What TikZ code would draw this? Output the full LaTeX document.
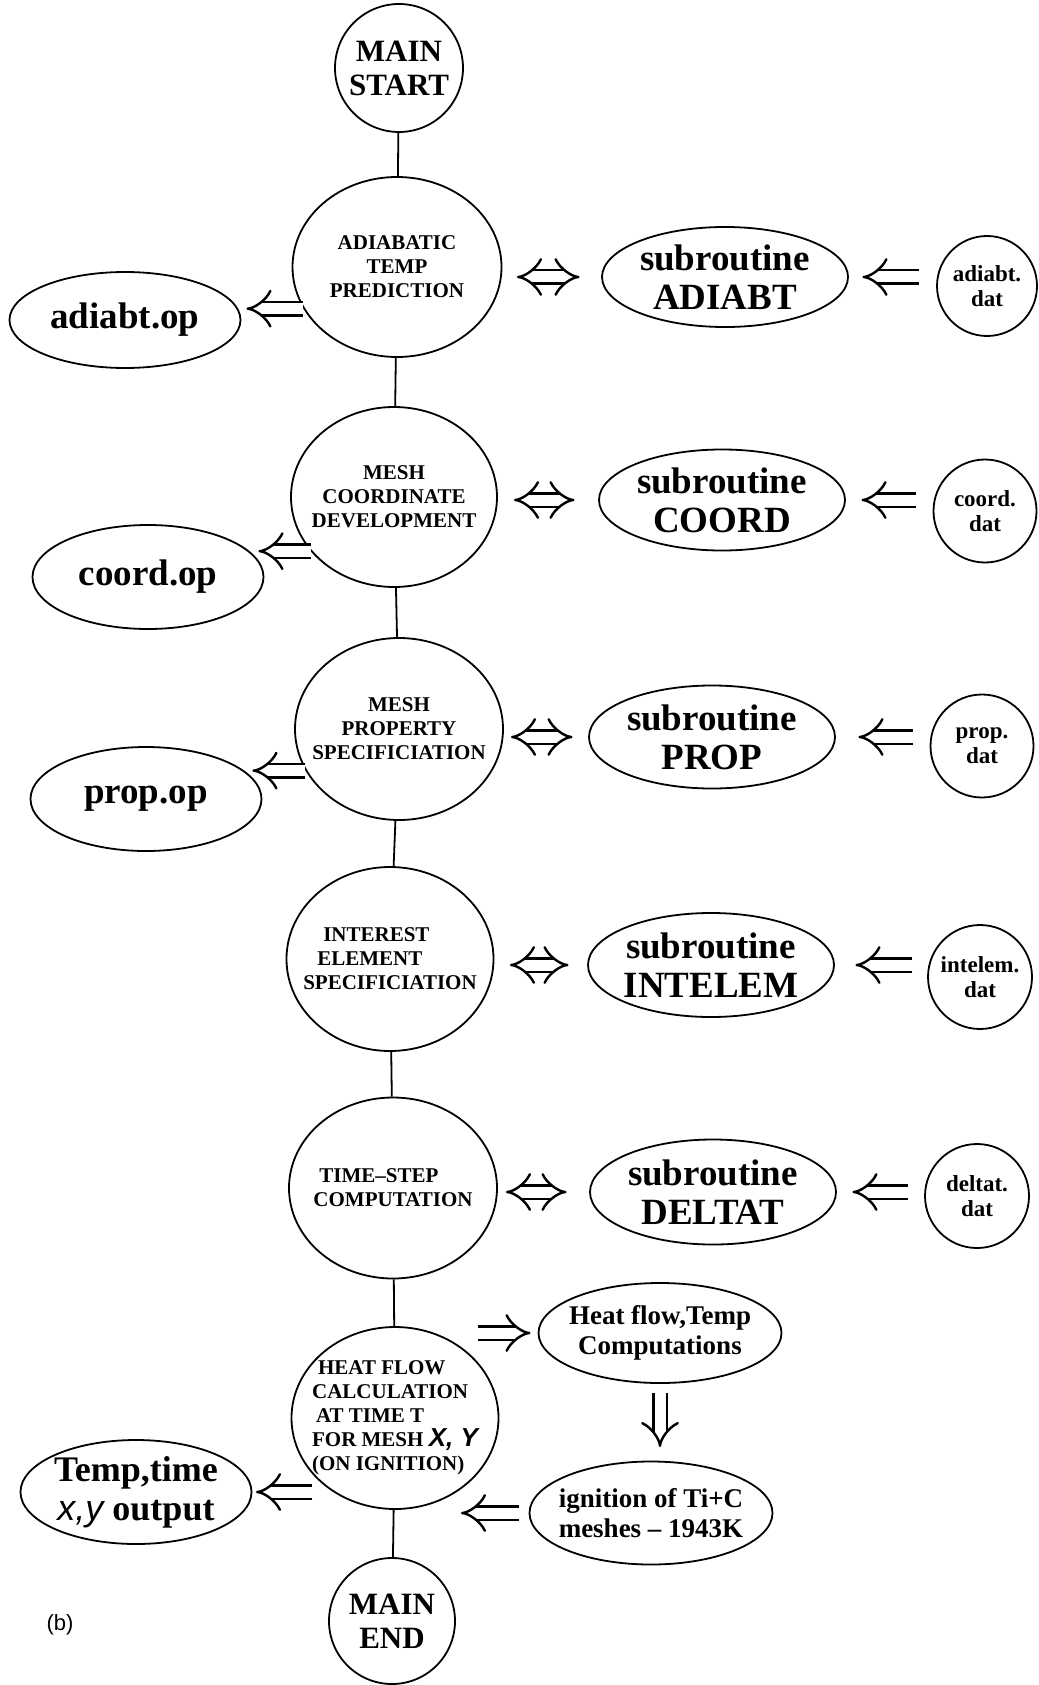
\documentclass[tikz,border=0pt]{standalone}
\usepackage{fontspec}
\setmainfont{Liberation Serif}
\setsansfont{Liberation Sans}
\usetikzlibrary{shapes.geometric,arrows.meta,calc}
\begin{document}
\begin{tikzpicture}[x=1pt,y=-1pt,
  every node/.style={inner sep=0pt, align=center, font=\bfseries},
  el/.style={draw, ellipse, line width=1.8pt, inner sep=-40pt},
  mainel/.style={el, font=\fontsize{21}{24}\selectfont\bfseries},
  subel/.style={el, minimum width=246pt, font=\fontsize{37}{39}\selectfont\bfseries},
  opel/.style={el, minimum width=231pt, font=\fontsize{37}{40}\selectfont\bfseries},
  datel/.style={el, font=\fontsize{23}{25}\selectfont\bfseries},
  compel/.style={el, font=\fontsize{27}{30}\selectfont\bfseries},
  termel/.style={el, font=\fontsize{31}{34}\selectfont\bfseries},
  dbl/.style={double, double distance=11pt, line width=2.4pt, -{Implies}},
  dblboth/.style={double, double distance=11pt, line width=2.4pt, {Implies}-{Implies}},
  link/.style={line width=1.8pt}
]
\useasboundingbox (0,0) rectangle (1038,1685);

% main column
\node[termel, minimum size=128pt] (start) at (399,68) {MAIN\\START};
\node[mainel, minimum width=209pt, minimum height=180pt] (adiab) at (397,267) {ADIABATIC\\TEMP\\PREDICTION};
\node[mainel, minimum width=206pt, minimum height=180pt] (coordm) at (394,497) {MESH\\COORDINATE\\DEVELOPMENT};
\node[mainel, minimum width=208pt, minimum height=182pt] (propm) at (399,729) {MESH\\PROPERTY\\SPECIFICIATION};
\node[mainel, align=left, minimum width=207pt, minimum height=184pt] (interm) at (390,959) {\hspace*{20pt}INTEREST\\\hspace*{14pt}ELEMENT\\SPECIFICIATION};
\node[mainel, align=left, minimum width=208pt, minimum height=181pt] (timem) at (393,1188) {\hspace*{6pt}TIME--STEP\\COMPUTATION};
\node[mainel, align=left, minimum width=207pt, minimum height=182pt] (heatm) at (395,1418) {\hspace*{6pt}HEAT FLOW\\CALCULATION\\\hspace*{4pt}AT TIME T\\FOR MESH {\sffamily\itshape\fontsize{26}{24}\selectfont X, Y}\\(ON IGNITION)};
\node[termel, minimum size=126pt] (endm) at (392,1621) {MAIN\\END};

% outputs (left)
\node[opel, minimum height=96pt] (adiabtop) at (125,320) {adiabt.op};
\node[opel, minimum height=104pt] (coordop) at (148,577) {coord.op};
\node[opel, minimum height=104pt] (propop) at (146,799) {prop.op};
\node[opel, minimum height=104pt, font=\fontsize{36}{39}\selectfont\bfseries] (tempout) at (136,1492) {Temp,time\\{\sffamily\mdseries\itshape x,y} output};

% subroutines
\node[subel, minimum height=100pt] (subA) at (725,277) {subroutine\\ADIABT};
\node[subel, minimum height=101pt] (subC) at (722,500) {subroutine\\COORD};
\node[subel, minimum height=103pt] (subP) at (712,737) {subroutine\\PROP};
\node[subel, minimum height=104pt] (subI) at (711,965) {subroutine\\INTELEM};
\node[subel, minimum height=105pt] (subD) at (713,1192) {subroutine\\DELTAT};

% data files
\node[datel, minimum size=100pt] (datA) at (987,286) {adiabt.\\dat};
\node[datel, minimum size=103pt] (datC) at (985,511) {coord.\\dat};
\node[datel, minimum size=103pt] (datP) at (982,746) {prop.\\dat};
\node[datel, minimum size=104pt] (datI) at (980,977) {intelem.\\dat};
\node[datel, minimum size=104pt] (datD) at (977,1196) {deltat.\\dat};

% computation ellipses
\node[compel, minimum width=243pt, minimum height=100pt] (hfT) at (660,1333) {Heat flow,Temp\\Computations};
\node[compel, minimum width=243pt, minimum height=103pt] (ign) at (651,1513) {ignition of Ti+C\\meshes -- 1943K};

\node[font=\sffamily\fontsize{22}{24}\selectfont] (lbl) at (60,1625) {(b)};

% vertical links
\draw[link] (start) -- (adiab);
\draw[link] (adiab) -- (coordm);
\draw[link] (coordm) -- (propm);
\draw[link] (propm) -- (interm);
\draw[link] (interm) -- (timem);
\draw[link] (timem) -- (heatm);
\draw[link] (heatm) -- (endm);

% main <-> subroutine
\draw[dblboth, shorten <=14.5pt, shorten >=21.5pt] (adiab.east |- subA.west) -- (subA.west);
\draw[dblboth, shorten <=16pt, shorten >=23.5pt] (coordm.east |- subC.west) -- (subC.west);
\draw[dblboth, shorten <=7pt, shorten >=15.5pt] (propm.east |- subP.west) -- (subP.west);
\draw[dblboth, shorten <=15.5pt, shorten >=18.5pt] (interm.east |- subI.west) -- (subI.west);
\draw[dblboth, shorten <=8pt, shorten >=22.5pt] (timem.east |- subD.west) -- (subD.west);

% data -> subroutine
\draw[dbl, shorten <=17pt, shorten >=13.5pt] (subA.east -| datA.west) -- (subA.east);
\draw[dbl, shorten <=16.5pt, shorten >=15.5pt] (subC.east -| datC.west) -- (subC.east);
\draw[dbl, shorten <=16.5pt, shorten >=22.5pt] (subP.east -| datP.west) -- (subP.east);
\draw[dbl, shorten <=15pt, shorten >=20.5pt] (subI.east -| datI.west) -- (subI.east);
\draw[dbl, shorten <=16pt, shorten >=15.5pt] (subD.east -| datD.west) -- (subD.east);

% main -> outputs
\draw[dbl, shorten >=5pt] (adiab.204) -- (adiab.204 -| adiabtop.east);
\draw[dbl, shorten >=-6pt] (coordm.213) -- (coordm.213 -| coordop.east);
\draw[dbl, shorten >=-10pt] (propm.204) -- (propm.204 -| propop.east);
\draw[dbl, shorten <=-21.5pt, shorten >=3.5pt] (tempout.east -| heatm.west) -- (tempout.east);

% heat flow loop
\draw[dbl, shorten <=-21.5pt, shorten >=7pt] (heatm.east |- hfT.west) -- (hfT.west);
\draw[dbl, shorten <=9pt, shorten >=13.5pt] (hfT.south) -- (hfT.south |- ign.north);
\draw[dbl, shorten <=9.5pt, shorten >=-38.5pt] (ign.west) -- (ign.west -| heatm.east);
\end{tikzpicture}
\end{document}
